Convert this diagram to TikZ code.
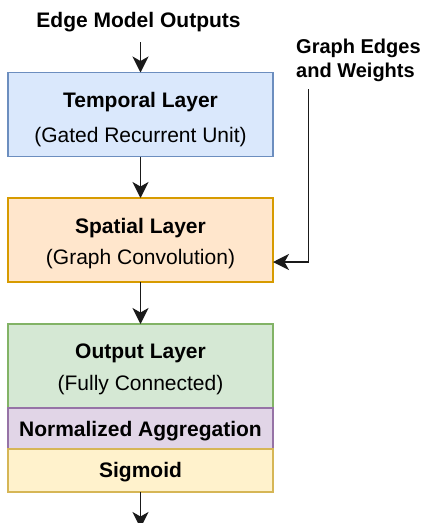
\documentclass[tikz,border=0pt]{standalone}
\usepackage{fontspec}
\setmainfont{Liberation Sans}
\usetikzlibrary{arrows.meta}

\definecolor{blueFill}{HTML}{DAE8FC}\definecolor{blueLine}{HTML}{6C8EBF}
\definecolor{orangeFill}{HTML}{FFE6CC}\definecolor{orangeLine}{HTML}{D79B00}
\definecolor{greenFill}{HTML}{D5E8D4}\definecolor{greenLine}{HTML}{82B366}
\definecolor{purpleFill}{HTML}{E1D5E7}\definecolor{purpleLine}{HTML}{9673A6}
\definecolor{yellowFill}{HTML}{FFF2CC}\definecolor{yellowLine}{HTML}{D6B656}
\definecolor{lineGray}{HTML}{1A1A1A}

\tikzset{
  layerbox/.style={draw, line width=1.6pt, minimum width=265pt, inner sep=0pt, outer sep=0pt},
  bigbox/.style={layerbox, minimum height=84pt},
  thinbox/.style={layerbox, minimum height=42pt},
  boxtext/.style={font=\fontsize{21}{25}\selectfont, inner sep=0pt, anchor=base},
  titletext/.style={boxtext, font=\fontsize{21}{25}\selectfont\bfseries},
  labeltext/.style={font=\fontsize{20}{24}\selectfont\bfseries, inner sep=0pt},
  arr/.style={draw=lineGray, line width=1.7pt,
    -{Stealth[length=16pt, width=16pt, inset=4.5pt]}},
}

\begin{document}
\begin{tikzpicture}[x=1pt, y=-1pt]
  \clip (0,0) rectangle (428,523);
  \fill[white] (0,0) rectangle (428,523);

  % input labels
  \node[labeltext, font=\fontsize{21}{25}\selectfont\bfseries, anchor=base] (emo) at (138.5,27) {Edge Model Outputs};
  \node[labeltext, anchor=base west, align=left] (gew) at (296,77) {Graph Edges\\and Weights};
  \coordinate (gstart) at (308.5,89);
  \coordinate (tstart) at (140.5,42);

  % temporal layer
  \node[bigbox, fill=blueFill, draw=blueLine] (temporal) at (140.5,114.5) {};
  \node[titletext] (temporalT) at (140.5,107) {Temporal Layer};
  \node[boxtext] (temporalS) at (140.5,142) {(Gated Recurrent Unit)};

  % spatial layer
  \node[bigbox, fill=orangeFill, draw=orangeLine] (spatial) at (140.5,240) {};
  \node[titletext] (spatialT) at (140.5,233) {Spatial Layer};
  \node[boxtext] (spatialS) at (140.5,264) {(Graph Convolution)};

  % output stack
  \node[bigbox, fill=greenFill, draw=greenLine] (output) at (140.5,366) {};
  \node[titletext] (outputT) at (140.5,358) {Output Layer};
  \node[boxtext] (outputS) at (140.5,390) {(Fully Connected)};

  \node[thinbox, minimum height=41pt, fill=purpleFill, draw=purpleLine] (norm) at (140.5,428.5) {};
  \node[titletext] (normT) at (140.5,436) {Normalized Aggregation};

  \node[thinbox, minimum height=43pt, fill=yellowFill, draw=yellowLine] (sig) at (140.5,470.5) {};
  \node[titletext] (sigT) at (140.5,477) {Sigmoid};
  \coordinate (outend) at (140.5,528);

  % connectors
  \draw[arr] (tstart) -- (temporal.north);
  \draw[arr] (temporal.south) -- (spatial.north);
  \draw[arr] (spatial.south) -- (output.north);
  \draw[arr] (gstart) |- ([yshift=-22pt]spatial.east);
  \draw[arr] (sig.south) -- (outend);
\end{tikzpicture}
\end{document}
